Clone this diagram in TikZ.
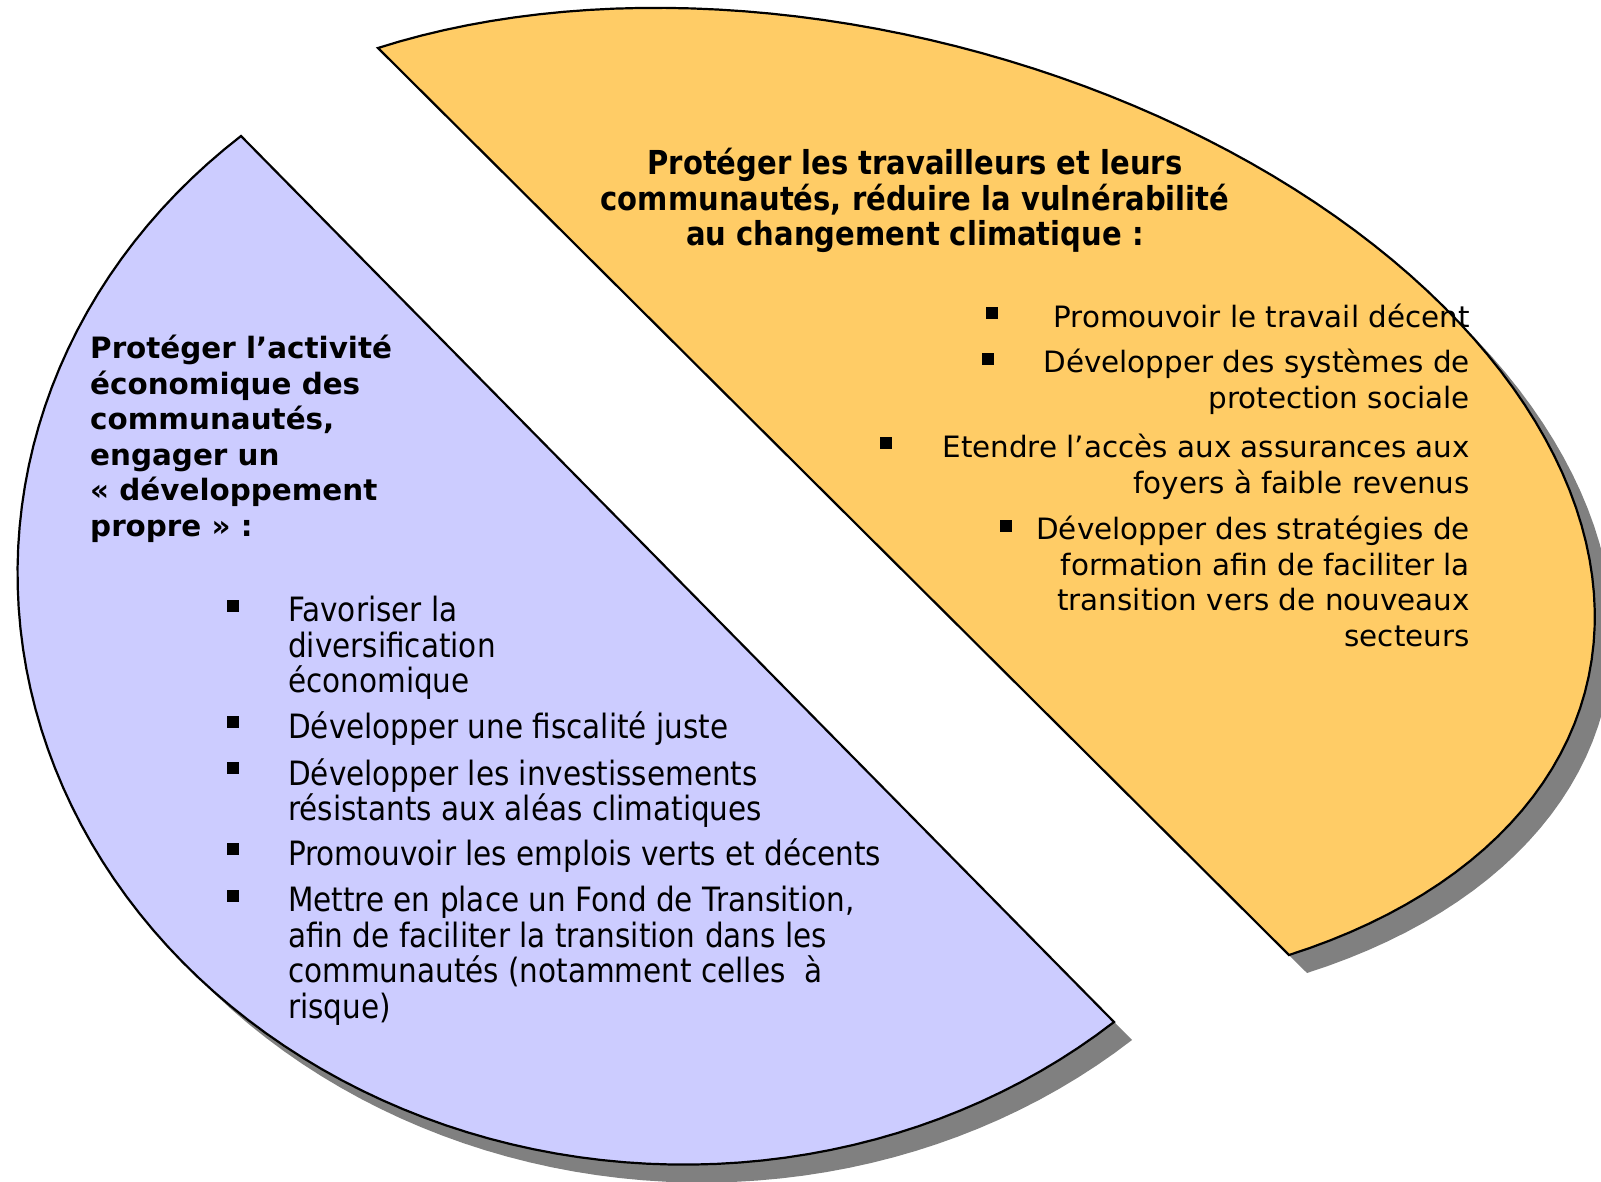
\documentclass[tikz,border=0pt]{standalone}
\usepackage{fontspec}
\usepackage{tikz}
\usepackage{xcolor}
\setmainfont{DejaVu Sans}
\newfontfamily\narrowfont[FakeStretch=0.88]{DejaVu Sans}

\definecolor{orangefill}{RGB}{255,204,102}
\definecolor{lilacfill}{RGB}{204,204,255}
\definecolor{shadowgray}{RGB}{128,128,128}

\begin{document}
\begin{tikzpicture}[x=1pt, y=-1pt,
  piece/.style={draw=black, line width=2.2pt, line join=miter},
  ttlo/.style={font=\narrowfont\bfseries\fontsize{33}{35.5}\selectfont, align=center, anchor=north, inner sep=0pt},
  ttlp/.style={font=\bfseries\fontsize{29.4}{35.5}\selectfont, align=left, anchor=north west, inner sep=0pt},
  itemo/.style={font=\fontsize{29.4}{35.5}\selectfont, align=right, anchor=north east, inner sep=0pt},
  itemp/.style={font=\narrowfont\fontsize{33.5}{35.5}\selectfont, align=left, anchor=north west, inner sep=0pt},
  blt/.style={rectangle, fill=black, inner sep=0pt, minimum size=12pt}]
\useasboundingbox (0,0) rectangle (1601,1182);
\clip (0,0) rectangle (1601,1182);

\fill[shadowgray, shift={(18,18)}] plot[domain=180:0, samples=91, variable=\t]
  ({833.5+455.5*cos(\t)+610*sin(\t)}, {501.5+453.5*cos(\t)-195*sin(\t)}) -- cycle;
\fill[shadowgray, shift={(18,18)}] plot[domain=180:0, samples=91, variable=\t]
  ({677.5+436.5*cos(\t)-495*sin(\t)}, {579+443*cos(\t)+383*sin(\t)}) -- cycle;

\draw[piece, fill=orangefill] plot[domain=180:0, samples=91, variable=\t]
  ({833.5+455.5*cos(\t)+610*sin(\t)}, {501.5+453.5*cos(\t)-195*sin(\t)}) -- cycle;
\draw[piece, fill=lilacfill] plot[domain=180:0, samples=91, variable=\t]
  ({677.5+436.5*cos(\t)-495*sin(\t)}, {579+443*cos(\t)+383*sin(\t)}) -- cycle;

\node[ttlo] (t) at (915,148) {Protéger les travailleurs et leurs\\communautés, réduire la vulnérabilité\\au changement climatique :};

\node[itemo] (o1) at (1470,304) {Promouvoir le travail décent};
\node[itemo] (o2) at (1470,349) {Développer des systèmes de\\protection sociale};
\node[itemo] (o3) at (1470,434) {Etendre l’accès aux assurances aux\\foyers à faible revenus};
\node[itemo] (o4) at (1470,516) {Développer des stratégies de\\formation afin de faciliter la\\transition vers de nouveaux\\secteurs};

\node[blt] (bo1) at (992,313) {};
\node[blt] (bo2) at (988,359) {};
\node[blt] (bo3) at (886,443) {};
\node[blt] (bo4) at (1006,526) {};

\node[ttlp] (s) at (90,335) {Protéger l’activité\\économique des\\communautés,\\engager un\\« développement\\propre » :};

\node[itemp] (p1) at (288,596) {Favoriser la\\diversification\\économique};
\node[itemp] (p2) at (288,712) {Développer une fiscalité juste};
\node[itemp] (p3) at (288,758) {Développer les investissements\\résistants aux aléas climatiques};
\node[itemp] (p4) at (288,839) {Promouvoir les emplois verts et décents};
\node[itemp] (p5) at (288,886) {Mettre en place un Fond de Transition,\\afin de faciliter la transition dans les\\communautés (notamment celles \ à\\risque)};

\node[blt] (bp1) at (233,606) {};
\node[blt] (bp2) at (233,722) {};
\node[blt] (bp3) at (233,768) {};
\node[blt] (bp4) at (233,849) {};
\node[blt] (bp5) at (233,896) {};
\end{tikzpicture}
\end{document}
